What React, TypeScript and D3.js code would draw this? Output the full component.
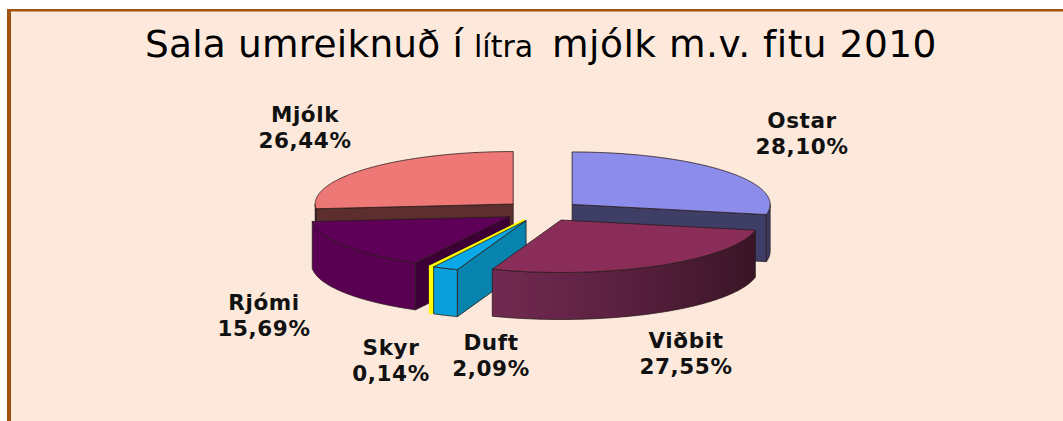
import React from 'react';
import * as d3 from 'd3';

// ---- data ----
const categories = ['Ostar', 'Viðbit', 'Duft', 'Skyr', 'Rjómi', 'Mjólk'];
const values = [28.1, 27.55, 2.09, 0.14, 15.69, 26.44];
const valueLabels = ['28,10%', '27,55%', '2,09%', '0,14%', '15,69%', '26,44%'];

// ---- styles ----
const topColors = ['#8C8CEB', '#8A2D58', '#0AA8E6', '#FFFF00', '#5E0058', '#EE7876'];
const outerColors = ['#3C3C62', 'url(#vidbitGrad)', '#0A9FDA', '#FFFF00', '#5A0052', '#5C2E2E'];
const radialColors = ['#3E3E66', '#5A1E3A', '#0883AE', '#FFFF00', '#3C0036', '#5C2E2E'];
const drawOrder = [0, 5, 4, 3, 2, 1];
const labelLayout: [number, number][] = [
  [802, 128],
  [686, 348],
  [491, 350],
  [391, 355],
  [264, 310],
  [305, 122],
];

const W = 1063;
const H = 421;
const cx = 542;
const cy = 211;
const rx = 198;
const k = 0.265;
const depth = 47;
const explode = 39;

type Pt = [number, number];

function proj(c: Pt, a: number, r: number, z: number): Pt {
  return [c[0] + r * Math.sin(a), c[1] - r * k * Math.cos(a) + z];
}

function arcPts(c: Pt, a0: number, a1: number, z: number): Pt[] {
  const n = Math.max(2, Math.ceil(Math.abs(a1 - a0) / 0.01));
  const pts: Pt[] = [];
  for (let i = 0; i <= n; i++) {
    const a = a0 + ((a1 - a0) * i) / n;
    pts.push(proj(c, a, rx, z));
  }
  return pts;
}

const line = d3.line<Pt>().x((d) => d[0]).y((d) => d[1]);

export default function App() {
  const pie = d3
    .pie<number>()
    .sort(null)
    .startAngle(0)
    .endAngle(2 * Math.PI)
    .value((d) => d);
  const arcs = pie(values);

  const slices = arcs.map((arc, i) => {
    const a0 = arc.startAngle;
    const a1 = arc.endAngle;
    const mid = (a0 + a1) / 2;
    const c: Pt = [cx + explode * Math.sin(mid), cy - explode * k * Math.cos(mid)];
    const faces: { d: string; fill: string; stroke: string }[] = [];
    const stroke = i === 3 ? '#FFFF00' : '#2a1a1a';
    const cb: Pt = [c[0], c[1] + depth];
    if (Math.sin(a0) < -1e-6) {
      const e0 = proj(c, a0, rx, 0);
      const e1 = proj(c, a0, rx, depth);
      faces.push({ d: line([c, e0, e1, cb])! + 'Z', fill: radialColors[i], stroke });
    }
    if (Math.sin(a1) > 1e-6) {
      const e0 = proj(c, a1, rx, 0);
      const e1 = proj(c, a1, rx, depth);
      faces.push({ d: line([c, e0, e1, cb])! + 'Z', fill: radialColors[i], stroke });
    }
    const lo = Math.max(a0, Math.PI / 2);
    const hi = Math.min(a1, (3 * Math.PI) / 2);
    if (lo < hi) {
      const top = arcPts(c, lo, hi, 0);
      const bot = arcPts(c, hi, lo, depth);
      faces.push({ d: line([...top, ...bot])! + 'Z', fill: outerColors[i], stroke });
    }
    const topArc = arcPts(c, a0, a1, 0);
    faces.push({ d: line([c, ...topArc])! + 'Z', fill: topColors[i], stroke });
    return faces;
  });

  const font = "'DejaVu Sans', Verdana, sans-serif";

  return (
    <svg
      width={W}
      height={H}
      style={{ position: 'absolute', left: 0, top: 0, display: 'block' }}
    >
      <defs>
        <linearGradient id="vidbitGrad" x1="0" x2="1" y1="0" y2="0">
          <stop offset="0" stopColor="#722A50" />
          <stop offset="0.5" stopColor="#5A2040" />
          <stop offset="1" stopColor="#3A1526" />
        </linearGradient>
      </defs>
      <rect x={0} y={0} width={W} height={H} fill="#ffffff" />
      <rect x={9} y={10} width={W - 9} height={H - 10} fill="#FCE9DC" />
      <rect x={7} y={9} width={4} height={H - 9} fill="#A0520F" />
      <rect x={7} y={9} width={W - 7} height={2.5} fill="#A0520F" />

      <g fontFamily={font} fill="#000">
        <text x={145} y={57} fontSize={37.5} letterSpacing={0.2}>Sala umreiknuð í</text>
        <text x={474} y={57} fontSize={30}>lítra</text>
        <text x={552} y={57} fontSize={37.5} letterSpacing={0.5}>mjólk m.v. fitu 2010</text>
      </g>

      {drawOrder.map((i) => (
        <g key={categories[i]}>
          {slices[i].map((f, j) => (
            <path
              key={j}
              d={f.d}
              fill={f.fill}
              stroke={f.stroke}
              strokeWidth={i === 3 ? 1.5 : 0.8}
              strokeLinejoin="round"
            />
          ))}
        </g>
      ))}

      <g fontFamily={font} fontWeight="bold" fontSize={21.5} letterSpacing={0.6} textAnchor="middle" fill="#111">
        {categories.map((name, i) => (
          <text key={name} x={labelLayout[i][0]} y={labelLayout[i][1]}>
            <tspan x={labelLayout[i][0]}>{name}</tspan>
            <tspan x={labelLayout[i][0]} dy={25.5}>{valueLabels[i]}</tspan>
          </text>
        ))}
      </g>
    </svg>
  );
}
